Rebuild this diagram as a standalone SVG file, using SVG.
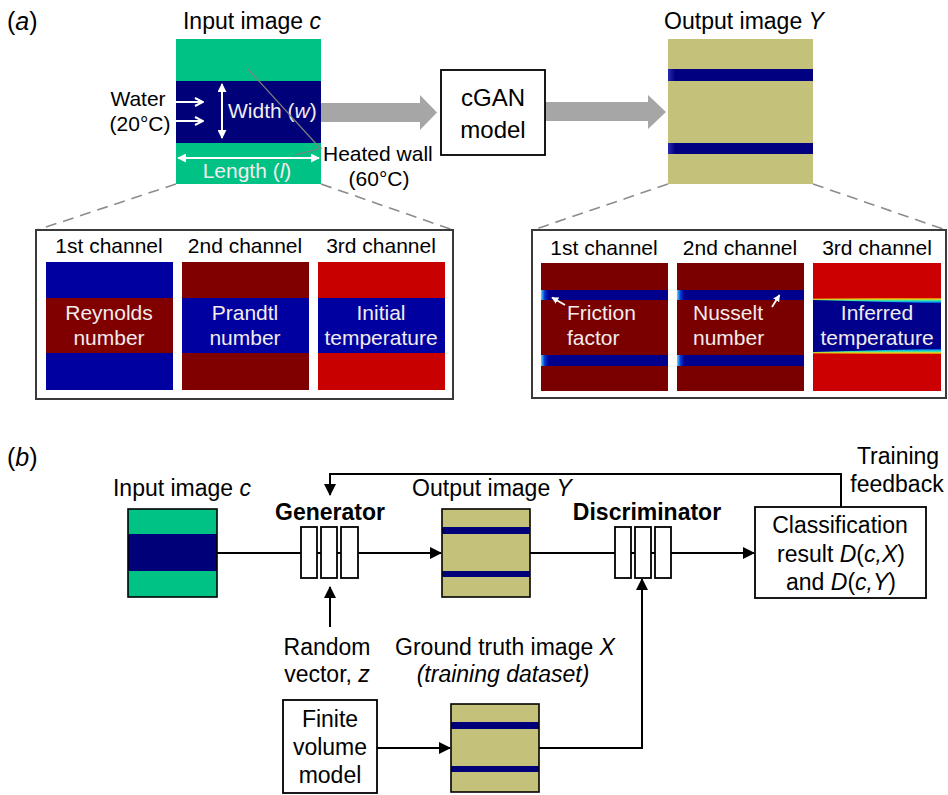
<svg xmlns="http://www.w3.org/2000/svg" width="948" height="795" viewBox="0 0 948 795">
<defs>
<style>
text{font-family:"Liberation Sans",Arial,sans-serif;fill:#000}
.t23{font-size:23px}
.t21{font-size:21px}
.t24{font-size:24px}
.c{text-anchor:middle}
.w{fill:#F2ECEC}
.i{font-style:italic}
.b{font-weight:bold}
.box{fill:#fff;stroke:#000;stroke-width:1.8}
.panel{fill:#fff;stroke:#3a3a3a;stroke-width:2}
.dash{stroke:#8c8c8c;stroke-width:1.6;stroke-dasharray:11 7;fill:none}
.con{stroke:#000;stroke-width:2;fill:none}
.gray{fill:#A6A6A6}
.lead{stroke:#7f7f7f;stroke-width:1.2;fill:none}
.warr{stroke:#fff;stroke-width:2;fill:none}
.img{fill:none;stroke:#000;stroke-width:1.6}
.blk{fill:#fff;stroke:#000;stroke-width:1.8}
.green{fill:#00C285}
.navy{fill:#000078}
.olive{fill:#C4C27A}
</style>
<linearGradient id="bandg" x1="0" y1="0" x2="1" y2="0">
<stop offset="0" stop-color="#2A2AB0"/><stop offset="0.05" stop-color="#000080"/><stop offset="1" stop-color="#000080"/>
</linearGradient>
<linearGradient id="cyg" x1="0" y1="0" x2="1" y2="0">
<stop offset="0" stop-color="#50D8FF"/><stop offset="0.03" stop-color="#0030D0"/><stop offset="0.06" stop-color="#00008C"/><stop offset="1" stop-color="#00008C"/>
</linearGradient>
<linearGradient id="topg" x1="0" y1="0" x2="0" y2="1">
<stop offset="0" stop-color="#CC0000"/><stop offset="0.25" stop-color="#FFD000"/><stop offset="0.5" stop-color="#40E0A0"/><stop offset="0.75" stop-color="#00A0FF"/><stop offset="1" stop-color="#00008C"/>
</linearGradient>
<linearGradient id="botg" x1="0" y1="0" x2="0" y2="1">
<stop offset="0" stop-color="#00008C"/><stop offset="0.25" stop-color="#00A0FF"/><stop offset="0.5" stop-color="#40E0A0"/><stop offset="0.75" stop-color="#FFD000"/><stop offset="1" stop-color="#CC0000"/>
</linearGradient>
<marker id="ah" viewBox="0 0 12 12" refX="11" refY="6" markerWidth="12" markerHeight="12" markerUnits="userSpaceOnUse" orient="auto"><path d="M0,0 L12,6 L0,12 z" fill="#000"/></marker>
<marker id="wh" viewBox="0 0 10 10" refX="9" refY="5" markerWidth="9" markerHeight="9" markerUnits="userSpaceOnUse" orient="auto-start-reverse"><path d="M0,0 L10,5 L0,10 z" fill="#fff"/></marker>
<marker id="wo" viewBox="0 0 10 10" refX="9" refY="5" markerWidth="10" markerHeight="10" markerUnits="userSpaceOnUse" orient="auto"><path d="M1,1 L9,5 L1,9" fill="none" stroke="#fff" stroke-width="2"/></marker>
<marker id="ws" viewBox="0 0 10 10" refX="9" refY="5" markerWidth="7" markerHeight="7" markerUnits="userSpaceOnUse" orient="auto"><path d="M0,0 L10,5 L0,10 z" fill="#fff"/></marker>
</defs>
<rect width="948" height="795" fill="#fff"/>

<!-- ============ Connectors ============ -->
<g id="connectors">
  <polygon class="gray" points="321,103 420,103 420,95 437,112.5 420,130 420,122 321,122"/>
  <polygon class="gray" points="545,102 648,102 648,95 666,112 648,129 648,121 545,121"/>
  <path class="dash" d="M176,184 L37,230"/>
  <path class="dash" d="M321,184 L453,230"/>
  <path class="dash" d="M668,184 L533,230"/>
  <path class="dash" d="M813,184 L946,230"/>
  <path class="con" d="M841,507 V474 H330 V495" marker-end="url(#ah)"/>
  <path class="con" d="M217,553 H441" marker-end="url(#ah)"/>
  <path class="con" d="M530,553 H754" marker-end="url(#ah)"/>
  <path class="con" d="M330,627 V587" marker-end="url(#ah)"/>
  <path class="con" d="M377,748 H450" marker-end="url(#ah)"/>
  <path class="con" d="M539,748 H642 V579" marker-end="url(#ah)"/>
</g>

<!-- ============ Part (a) ============ -->
<g id="label-a"><text x="7" y="30" style="font-size:25px">(<tspan class="i">a</tspan>)</text></g>

<g id="input-image-a">
  <text class="t23 c" x="252" y="29">Input image <tspan class="i">c</tspan></text>
  <rect class="green" x="176" y="39" width="145" height="145"/>
  <rect class="navy" x="176" y="81" width="145" height="62"/>
  <path class="warr" d="M222,84 V138" marker-start="url(#wh)" marker-end="url(#wh)"/>
  <path class="warr" d="M178,158 H319" marker-start="url(#wh)" marker-end="url(#wh)"/>
  <text class="t21 w" x="228" y="118">Width (<tspan class="i">w</tspan>)</text>
  <text class="t21 w c" x="247" y="178">Length (<tspan class="i">l</tspan>)</text>
</g>

<g id="water-inlet">
  <text class="t21 c" x="138" y="106">Water</text>
  <text class="t21 c" x="140" y="131">(20°C)</text>
  <path class="warr" d="M176,102 H203" marker-end="url(#wo)"/>
  <path class="warr" d="M176,121 H203" marker-end="url(#wo)"/>
</g>

<g id="heated-wall">
  <path class="lead" d="M248,69 L319,147"/>
  <path class="lead" d="M295,155 L322,148"/>
  <text class="t21" x="323" y="161">Heated wall</text>
  <text class="t21 c" x="379" y="186">(60°C)</text>
</g>

<g id="cgan-model">
  <rect class="box" x="441" y="70" width="104" height="85"/>
  <text class="t24 c" x="493" y="106">cGAN</text>
  <text class="t24 c" x="493" y="138">model</text>
</g>

<g id="output-image-a">
  <text class="t23 c" x="744" y="29">Output image <tspan class="i">Y</tspan></text>
  <rect class="olive" x="668" y="39" width="145" height="145"/>
  <rect fill="url(#bandg)" x="668" y="69" width="145" height="12"/>
  <rect fill="url(#bandg)" x="668" y="143" width="145" height="11"/>
</g>

<g id="input-channels">
  <rect class="panel" x="36" y="230" width="417" height="169"/>
  <text class="t21 c" x="109" y="253">1st channel</text>
  <text class="t21 c" x="245" y="253">2nd channel</text>
  <text class="t21 c" x="381" y="253">3rd channel</text>
  <rect fill="#0000A0" x="46" y="262" width="127" height="128"/>
  <rect fill="#800000" x="46" y="298" width="127" height="55"/>
  <rect fill="#800000" x="182" y="262" width="127" height="128"/>
  <rect fill="#0000A0" x="182" y="298" width="127" height="55"/>
  <rect fill="#C80000" x="318" y="262" width="127" height="128"/>
  <rect fill="#0000A0" x="318" y="298" width="127" height="55"/>
  <text class="t21 w c" x="109" y="320">Reynolds</text>
  <text class="t21 w c" x="109" y="345">number</text>
  <text class="t21 w c" x="245" y="320">Prandtl</text>
  <text class="t21 w c" x="245" y="345">number</text>
  <text class="t21 w c" x="381" y="320">Initial</text>
  <text class="t21 w c" x="381" y="345">temperature</text>
</g>

<g id="output-channels">
  <rect class="panel" x="532" y="230" width="414" height="168"/>
  <text class="t21 c" x="604" y="255">1st channel</text>
  <text class="t21 c" x="740" y="255">2nd channel</text>
  <text class="t21 c" x="877" y="255">3rd channel</text>
  <rect fill="#7A0000" x="541" y="263" width="127" height="128"/>
  <rect fill="url(#cyg)" x="541" y="290" width="127" height="10"/>
  <rect fill="url(#cyg)" x="541" y="355" width="127" height="11"/>
  <rect fill="#7A0000" x="677" y="263" width="127" height="128"/>
  <rect fill="url(#cyg)" x="677" y="290" width="127" height="10"/>
  <rect fill="url(#cyg)" x="677" y="355" width="127" height="11"/>
  <rect fill="#CC0000" x="813" y="263" width="128" height="128"/>
  <polygon fill="#00008C" points="813,299.5 941,302 941,350 813,352.5"/>
  <polygon fill="url(#topg)" points="813,298.5 941,297.5 941,303.5 813,300"/>
  <polygon fill="url(#botg)" points="813,352 941,348.5 941,354.5 813,353.5"/>
  <path class="warr" d="M565,305 L552,297.5" marker-end="url(#ws)" style="stroke-width:1.8"/>
  <path class="warr" d="M772,307 L779.5,295" marker-end="url(#ws)" style="stroke-width:1.8"/>
  <text class="t21 w" x="567" y="320">Friction</text>
  <text class="t21 w" x="567" y="345">factor</text>
  <text class="t21 w" x="693" y="320">Nusselt</text>
  <text class="t21 w" x="693" y="345">number</text>
  <text class="t21 w c" x="877" y="320">Inferred</text>
  <text class="t21 w c" x="877" y="345">temperature</text>
</g>

<!-- ============ Part (b) ============ -->
<g id="label-b"><text x="7" y="466" style="font-size:25px">(<tspan class="i">b</tspan>)</text></g>

<g id="input-image-b">
  <text class="t23 c" x="182" y="496">Input image <tspan class="i">c</tspan></text>
  <rect class="green" x="128" y="509" width="89" height="88"/>
  <rect class="navy" x="128" y="534" width="89" height="37"/>
  <rect class="img" x="128" y="509" width="89" height="88"/>
</g>

<g id="generator">
  <text class="t23 c b" x="330" y="520">Generator</text>
  <rect class="blk" x="301" y="527" width="16" height="51"/>
  <rect class="blk" x="321" y="527" width="16" height="51"/>
  <rect class="blk" x="341" y="527" width="17" height="51"/>
  <path class="con" d="M317,553 H321 M337,553 H341"/>
</g>

<g id="output-image-b">
  <text class="t23 c" x="492" y="496">Output image <tspan class="i">Y</tspan></text>
  <rect class="olive" x="442" y="509" width="88" height="88"/>
  <rect class="navy" x="442" y="527" width="88" height="7"/>
  <rect class="navy" x="442" y="571" width="88" height="6"/>
  <rect class="img" x="442" y="509" width="88" height="88"/>
</g>

<g id="discriminator">
  <text class="t23 c b" x="647" y="520">Discriminator</text>
  <rect class="blk" x="615" y="527" width="16" height="51"/>
  <rect class="blk" x="635" y="527" width="16" height="51"/>
  <rect class="blk" x="655" y="527" width="16" height="51"/>
  <path class="con" d="M631,553 H635 M651,553 H655"/>
</g>

<g id="classification">
  <rect class="box" x="755" y="507" width="171" height="91"/>
  <text class="t23 c" x="840" y="533">Classification</text>
  <text class="t23 c" x="841" y="562">result <tspan class="i">D</tspan>(<tspan class="i">c,X</tspan>)</text>
  <text class="t23 c" x="841" y="590">and <tspan class="i">D</tspan>(<tspan class="i">c,Y</tspan>)</text>
</g>

<g id="training-feedback">
  <text class="t23 c" x="898" y="464">Training</text>
  <text class="t23 c" x="897" y="492">feedback</text>
</g>

<g id="random-vector">
  <text class="t23 c" x="327" y="655">Random</text>
  <text class="t23 c" x="327" y="682">vector, <tspan class="i">z</tspan></text>
</g>

<g id="ground-truth">
  <text class="t23 c" x="505" y="655">Ground truth image <tspan class="i">X</tspan></text>
  <text class="t23 c i" x="503" y="682">(training dataset)</text>
  <rect class="olive" x="451" y="704" width="88" height="88"/>
  <rect class="navy" x="451" y="722" width="88" height="7"/>
  <rect class="navy" x="451" y="766" width="88" height="6"/>
  <rect class="img" x="451" y="704" width="88" height="88"/>
</g>

<g id="finite-volume">
  <rect class="box" x="283" y="700" width="94" height="93"/>
  <text class="t23 c" x="330" y="727">Finite</text>
  <text class="t23 c" x="330" y="755">volume</text>
  <text class="t23 c" x="330" y="783">model</text>
</g>
</svg>
